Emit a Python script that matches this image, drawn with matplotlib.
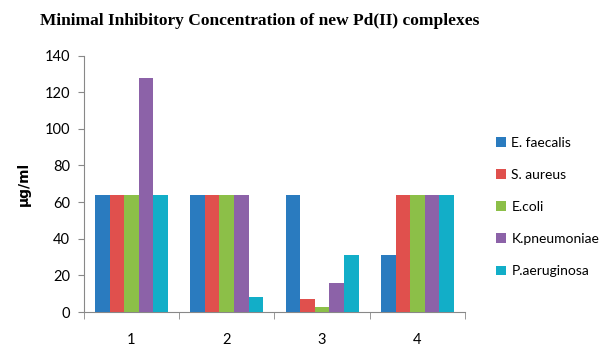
import matplotlib.pyplot as plt
import numpy as np

# MIC values (µg/ml) for each complex against each strain
complexes = ["1", "2", "3", "4"]
strains = ["E. faecalis", "S. aureus", "E.coli", "K.pneumoniae", "P.aeruginosa"]
e_faecalis = [64, 64, 64, 31]
s_aureus = [64, 64, 7, 64]
e_coli = [64, 64, 3, 64]
k_pneumoniae = [128, 64, 16, 64]
p_aeruginosa = [64, 8, 31, 64]

series = [e_faecalis, s_aureus, e_coli, k_pneumoniae, p_aeruginosa]
colors = ["#2a7bbf", "#e0504d", "#8cbf48", "#8c62a8", "#12aec8"]

plt.rcParams['font.family'] = ['Lato', 'DejaVu Sans']

fig = plt.figure(figsize=(6.16, 3.48), dpi=100)
ax = fig.add_axes([0.136, 0.1034, 0.619, 0.737])

x = np.arange(len(complexes))
w = 0.153
for i, (vals, c) in enumerate(zip(series, colors)):
    ax.bar(x + (i - 2) * w, vals, width=w, color=c, label=strains[i], zorder=3)

ax.set_xlim(-0.5, len(complexes) - 0.5)
ax.set_ylim(0, 140)
ax.set_yticks(range(0, 141, 20))
ax.set_xticks(x)
ax.set_xticklabels(complexes)
ax.set_xticks(np.arange(-0.5, len(complexes), 1), minor=True)
ax.tick_params(axis='x', which='major', length=0, pad=15, labelsize=10.5)
ax.tick_params(axis='x', which='minor', length=5, color='#888888')
ax.tick_params(axis='y', length=4, color='#888888', labelsize=10.5, pad=6)

for s in ['top', 'right']:
    ax.spines[s].set_visible(False)
for s in ['left', 'bottom']:
    ax.spines[s].set_color('#888888')

ax.set_ylabel("μg/ml", fontweight='bold', fontsize=10, labelpad=10,
              family=['DejaVu Sans'])

fig.text(0.422, 0.94, "Minimal Inhibitory Concentration of new Pd(II) complexes",
         ha='center', va='center', fontsize=12.5, fontweight='bold',
         family=['Liberation Serif'])

ax.legend(loc='center left', bbox_to_anchor=(0.785, 0.405), bbox_transform=fig.transFigure,
          frameon=False, fontsize=10, handlelength=0.7, handleheight=0.7,
          handletextpad=0.4, labelspacing=1.45)

fig.savefig("out.png", dpi=100)
